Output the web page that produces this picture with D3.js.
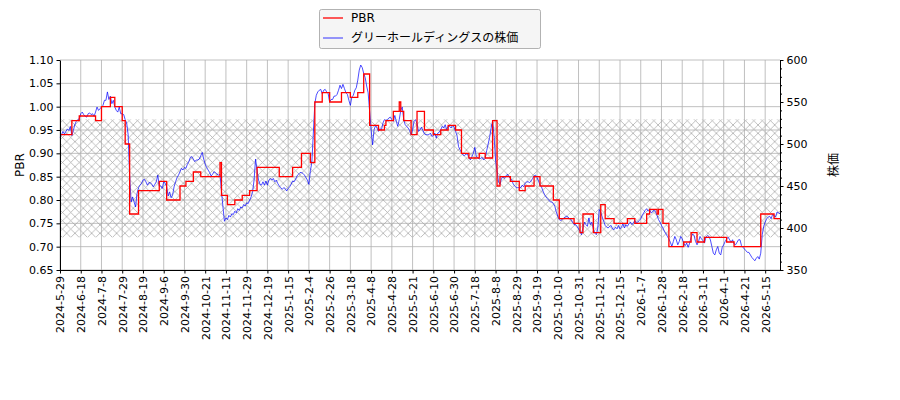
<!DOCTYPE html>
<html>
<head>
<meta charset="utf-8">
<script src="https://cdn.jsdelivr.net/npm/d3@7"></script>
<style>
body { margin: 0; background: #fff; }
text { font-family: "DejaVu Sans", "Noto Sans CJK JP", sans-serif; }
</style>
</head>
<body>
<svg id="chart" width="900" height="400"></svg>
<script>
// x axis is a trading-day index; one label every 14 trading days
var tickLabels = ["2024-5-29","2024-6-18","2024-7-8","2024-7-29","2024-8-19","2024-9-6","2024-9-30",
	"2024-10-21","2024-11-11","2024-11-29","2024-12-19","2025-1-15","2025-2-4","2025-2-26","2025-3-18",
	"2025-4-8","2025-4-28","2025-5-21","2025-6-10","2025-6-30","2025-7-18","2025-8-8","2025-8-29",
	"2025-9-19","2025-10-10","2025-10-31","2025-11-21","2025-12-15","2026-1-7","2026-1-28","2026-2-18",
	"2026-3-11","2026-4-1","2026-4-21","2026-5-15"];
var tickStep = 14;

// daily closing price (right axis)
var stockPrice = [
	508,511,515,512,515,518,516,521,510,516, 523,527,529,530,536,538,535,533,532,536,
	537,535,536,533,538,544,540,542,544,546, 552,552,562,553,557,548,552,544,540,538,
	544,536,536,535,529,525,511,463,431,437, 431,425,441,448,451,453,457,458,455,451,
	454,454,452,449,452,455,463,450,450,447, 455,453,449,438,443,436,439,449,455,460,
	463,467,471,469,472,471,476,479,484,485, 482,479,481,481,482,486,490,482,476,472,
	469,466,462,464,467,466,464,463,464,444, 425,408,412,410,415,413,417,416,420,418,
	423,421,425,424,428,426,430,429,433,437, 443,457,482,469,457,452,451,455,451,456,
	451,457,459,457,459,455,457,453,450,448, 446,448,447,444,447,449,452,456,455,458,
	462,464,466,466,465,463,460,457,452,468, 478,513,548,558,562,564,565,560,564,565,
	562,560,550,553,553,557,557,559,564,570, 566,571,566,561,559,552,546,556,558,564,
	567,576,588,594,591,584,579,569,561,539, 517,499,517,522,519,515,518,517,525,529,
	528,529,531,532,529,527,534,527,521,529, 540,544,529,523,521,519,516,511,517,527,
	529,524,515,517,520,516,512,511,511,511, 513,509,510,513,507,513,514,517,521,519,
	523,517,521,521,519,522,520,515,510,497, 493,490,487,486,488,488,484,481,485,489,
	496,485,484,482,483,484,481,483,492,500, 508,519,527,510,481,468,455,452,459,461,
	459,462,464,461,459,457,452,450,448,448, 448,448,451,449,453,455,455,454,456,459,
	462,463,460,456,451,449,444,440,437,435, 433,431,431,429,426,419,414,410,409,410,
	412,413,414,413,411,410,407,404,404,402, 399,396,392,400,407,404,402,412,404,407,
	399,394,392,400,422,419,413,408,403,401, 400,402,403,399,398,401,399,403,399,401,
	405,400,404,402,405,407,404,406,409,406, 407,409,411,415,418,421,423,420,422,418,
	419,422,419,415,410,407,403,400,396,393, 390,387,383,378,384,390,386,380,384,390,
	387,382,379,382,377,382,389,393,391,384, 380,384,390,387,385,382,389,391,390,386,
	378,370,368,374,378,370,368,377,380,384, 387,389,386,383,386,381,380,383,386,386,
	379,377,375,373,371,371,368,365,363,361, 364,366,363,370,392,402,407,411,413,414,
	411,416,415,413,419,418,417
];

// PBR (left axis): value holds from each start index until the next one
var pbrStart = [0,8,13,24,28,34,37,42,44,47,53,67,72,81,85,90,95,108,109,113,118,123,128,133,148,157,
	163,169,172,177,182,190,196,201,205,209,215,219,220,225,229,230,232,237,241,246,252,257,262,267,
	271,276,283,287,292,295,297,304,310,314,320,324,333,337,347,351,353,360,365,368,374,383,388,396,
	398,403,404,407,411,421,426,430,435,450,455,473,482];
var pbrValue = [0.94,0.97,0.98,0.97,1.00,1.02,1.00,0.97,0.92,0.77,0.82,0.84,0.80,0.83,0.84,0.86,0.85,0.88,0.81,0.79,0.80,0.81,0.82,0.87,0.85,0.87,
	0.90,0.88,1.01,1.03,1.01,1.03,1.02,1.03,1.07,0.96,0.95,0.96,0.97,0.99,1.01,0.99,0.97,0.94,0.99,0.95,0.94,0.95,0.96,0.95,
	0.90,0.89,0.90,0.89,0.97,0.83,0.85,0.84,0.82,0.83,0.85,0.83,0.80,0.76,0.75,0.73,0.77,0.73,0.79,0.76,0.75,0.76,0.75,0.77,
	0.78,0.77,0.78,0.75,0.70,0.71,0.73,0.71,0.72,0.71,0.70,0.77,0.76];

var pbrTicks = [0.65,0.70,0.75,0.80,0.85,0.90,0.95,1.00,1.05,1.10];
var priceTicks = [350,400,450,500,550,600];
var hatchBand = [0.72, 0.973];

var svg = d3.select("#chart");
var plot = {left: 60, right: 780, top: 60, bottom: 270};

var x = d3.scaleLinear().domain([0, stockPrice.length - 1]).range([plot.left, plot.right]);
var yL = d3.scaleLinear().domain([0.65, 1.10]).range([plot.bottom, plot.top]);
var yR = d3.scaleLinear().domain([350, 600]).range([plot.bottom, plot.top]);

var tickIdx = tickLabels.map(function(d, k) { return k * tickStep; });

// hatch pattern
var hs = 8.33;
var pat = svg.append("defs").append("pattern")
	.attr("id", "hatch")
	.attr("patternUnits", "userSpaceOnUse")
	.attr("width", hs).attr("height", hs);
pat.append("path")
	.attr("d", "M0,0L" + hs + "," + hs + "M0," + hs + "L" + hs + ",0" +
		"M-1,1L1,-1M" + (hs - 1) + "," + (hs + 1) + "L" + (hs + 1) + "," + (hs - 1) +
		"M-1," + (hs - 1) + "L1," + (hs + 1) + "M" + (hs - 1) + ",-1L" + (hs + 1) + ",1")
	.attr("stroke", "#a4a4a4")
	.attr("stroke-width", 0.7)
	.attr("fill", "none");

// grid
var grid = svg.append("g");
grid.selectAll(".gx").data(tickIdx).enter().append("line")
	.attr("x1", function(d) { return x(d); }).attr("x2", function(d) { return x(d); })
	.attr("y1", plot.top).attr("y2", plot.bottom)
	.attr("stroke", "#b0b0b0").attr("stroke-width", 0.8);
grid.selectAll(".gy").data(pbrTicks).enter().append("line")
	.attr("x1", plot.left).attr("x2", plot.right)
	.attr("y1", function(d) { return yL(d); }).attr("y2", function(d) { return yL(d); })
	.attr("stroke", "#b0b0b0").attr("stroke-width", 0.8);

svg.append("rect")
	.attr("x", plot.left)
	.attr("y", yL(hatchBand[1]))
	.attr("width", plot.right - plot.left)
	.attr("height", yL(hatchBand[0]) - yL(hatchBand[1]))
	.attr("fill", "url(#hatch)");

// price line
var priceLine = d3.line()
	.x(function(d, i) { return x(i); })
	.y(function(d) { return yR(d); });
svg.append("path")
	.datum(stockPrice)
	.attr("d", priceLine)
	.attr("fill", "none")
	.attr("stroke", "#0000ff")
	.attr("stroke-width", 0.7);

// PBR step line
var pbrPts = pbrStart.map(function(s, k) { return [s, pbrValue[k]]; });
pbrPts.push([stockPrice.length - 1, pbrValue[pbrValue.length - 1]]);
var pbrLine = d3.line()
	.curve(d3.curveStepAfter)
	.x(function(d) { return x(d[0]); })
	.y(function(d) { return yL(d[1]); });
svg.append("path")
	.datum(pbrPts)
	.attr("d", pbrLine)
	.attr("fill", "none")
	.attr("stroke", "#ff0000")
	.attr("stroke-width", 1.3);

// axes
function styleAxis(g) {
	g.attr("font-family", "DejaVu Sans, sans-serif").attr("font-size", 11);
	g.selectAll("text").attr("fill", "#000");
	g.selectAll("line").attr("stroke", "#000");
	g.select(".domain").attr("stroke", "#000");
}

var xAxis = svg.append("g")
	.attr("transform", "translate(0," + plot.bottom + ")")
	.call(d3.axisBottom(x).tickValues(tickIdx)
		.tickFormat(function(d, k) { return tickLabels[k]; })
		.tickSize(3.5).tickSizeOuter(0))
	.call(styleAxis);
xAxis.selectAll("text")
	.attr("transform", "rotate(-90)")
	.attr("text-anchor", "end")
	.attr("x", -6)
	.attr("y", 0)
	.attr("dy", "0.35em");

svg.append("g")
	.attr("transform", "translate(" + plot.left + ",0)")
	.call(d3.axisLeft(yL).tickValues(pbrTicks).tickFormat(d3.format(".2f"))
		.tickSize(3.5).tickSizeOuter(0))
	.call(styleAxis);

svg.append("g")
	.attr("transform", "translate(" + plot.right + ",0)")
	.call(d3.axisRight(yR).tickValues(d3.range(350, 601, 10)).tickFormat("")
		.tickSize(2).tickSizeOuter(0))
	.call(styleAxis);
svg.append("g")
	.attr("transform", "translate(" + plot.right + ",0)")
	.call(d3.axisRight(yR).tickValues(priceTicks)
		.tickSize(3.5).tickSizeOuter(0))
	.call(styleAxis);

// axis titles
svg.append("text")
	.attr("transform", "translate(24," + ((plot.top + plot.bottom) / 2) + ") rotate(-90)")
	.attr("text-anchor", "middle")
	.attr("font-size", 12)
	.text("PBR");
svg.append("text")
	.attr("transform", "translate(838," + ((plot.top + plot.bottom) / 2) + ") rotate(-90)")
	.attr("text-anchor", "middle")
	.attr("font-size", 12)
	.text("株価");

// legend
var legend = svg.append("g");
legend.append("rect")
	.attr("x", 319.5).attr("y", 9.5)
	.attr("width", 221).attr("height", 39)
	.attr("rx", 2)
	.attr("fill", "#f5f5f5")
	.attr("stroke", "#a0a0a0")
	.attr("stroke-width", 0.8);
var legItems = [{name: "PBR", color: "#ff0000"}, {name: "グリーホールディングスの株価", color: "#0000ff"}];
legItems.forEach(function(d, k) {
	var ly = 18 + k * 20;
	legend.append("line")
		.attr("x1", 323).attr("x2", 343)
		.attr("y1", ly).attr("y2", ly)
		.attr("stroke", d.color)
		.attr("stroke-width", k === 0 ? 1.3 : 0.8);
	legend.append("text")
		.attr("x", 351).attr("y", ly)
		.attr("dy", "0.35em")
		.attr("font-size", 12)
		.text(d.name);
});
</script>
</body>
</html>
